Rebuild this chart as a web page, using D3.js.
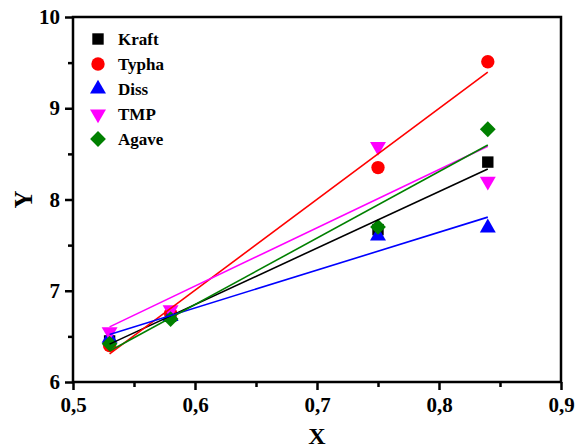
<!DOCTYPE html>
<html>
<head>
<meta charset="utf-8">
<script src="https://cdn.jsdelivr.net/npm/d3@7"></script>
<style>
  html, body { margin: 0; padding: 0; background: #fff; }
  svg { display: block; }
  text { font-family: "Liberation Serif", "Times New Roman", serif; font-weight: bold; fill: #000; }
</style>
</head>
<body>
<svg id="chart" width="583" height="448"></svg>
<script>
// Measured samples
const xValues = [0.53, 0.58, 0.75, 0.84];
const kraft = [6.45, 6.72, 7.67, 8.41];
const typha = [6.40, 6.75, 8.35, 9.51];
const diss  = [6.48, 6.72, 7.60, 7.69];
const tmp   = [6.55, 6.79, 8.58, 8.20];
const agave = [6.42, 6.69, 7.70, 8.77];

const seriesNames = ["Kraft", "Typha", "Diss", "TMP", "Agave"];
const seriesColors = ["#000000", "#ff0000", "#0000ff", "#ff00ff", "#008000"];
const seriesSymbols = ["square", "circle", "triangleUp", "triangleDown", "diamond"];

const xTicks = [0.5, 0.6, 0.7, 0.8, 0.9];
const yTicks = [6, 7, 8, 9, 10];

const seriesValues = [kraft, typha, diss, tmp, agave];
const series = seriesNames.map((name, i) => ({
  name, color: seriesColors[i], symbol: seriesSymbols[i],
  points: xValues.map((x, j) => ({ x, y: seriesValues[i][j] }))
}));

const svg = d3.select("#chart");
const margin = { left: 73, right: 22, top: 17, bottom: 66 };
const W = 583, H = 448;

const x = d3.scaleLinear().domain([0.5, 0.9]).range([margin.left, W - margin.right]);
const y = d3.scaleLinear().domain([6, 10]).range([H - margin.bottom, margin.top]);

const fmt = d => d3.format(".1f")(d).replace(".", ",");

// Frame
svg.append("rect")
  .attr("x", x(0.5)).attr("y", y(10))
  .attr("width", x(0.9) - x(0.5)).attr("height", y(6) - y(10))
  .attr("fill", "none").attr("stroke", "#000").attr("stroke-width", 2.5);

// Bottom axis: major + minor ticks pointing out
const xAxis = svg.append("g").attr("transform", `translate(0,${y(6)})`)
  .call(d3.axisBottom(x).tickValues(xTicks).tickFormat(fmt).tickSize(8).tickPadding(5));
svg.append("g").attr("transform", `translate(0,${y(6)})`)
  .call(d3.axisBottom(x).tickValues([0.55, 0.65, 0.75, 0.85]).tickFormat("").tickSize(5));

const yAxis = svg.append("g").attr("transform", `translate(${x(0.5)},0)`)
  .call(d3.axisLeft(y).tickValues(yTicks).tickFormat(d3.format("d")).tickSize(8).tickPadding(5));
svg.append("g").attr("transform", `translate(${x(0.5)},0)`)
  .call(d3.axisLeft(y).tickValues([6.5, 7.5, 8.5, 9.5]).tickFormat("").tickSize(5));

svg.selectAll(".domain").attr("stroke", "none");
svg.selectAll(".tick line").attr("stroke", "#000").attr("stroke-width", 2.5);
svg.selectAll(".tick text")
  .style("font-family", '"Liberation Serif", serif')
  .style("font-weight", "bold").style("font-size", "21px").attr("fill", "#000");
xAxis.selectAll(".tick text").attr("dy", "0.8em");

// Axis titles
svg.append("text").attr("x", x(0.7)).attr("y", 444)
  .attr("text-anchor", "middle").style("font-size", "24px").text("X");
svg.append("text")
  .attr("transform", `translate(32,${y(8)}) rotate(-90)`)
  .attr("text-anchor", "middle").style("font-size", "25px").text("Y");

const symbolType = {
  square: d3.symbolSquare, circle: d3.symbolCircle, triangleUp: d3.symbolTriangle,
  triangleDown: d3.symbolTriangle, diamond: d3.symbolSquare
};
const symbolSize = { square: 130, circle: 140, triangleUp: 110, triangleDown: 110, diamond: 125 };
function symbolPath(kind) {
  return d3.symbol().type(symbolType[kind]).size(symbolSize[kind])();
}
function symbolRotate(kind) {
  if (kind === "triangleDown") return " rotate(180)";
  if (kind === "diamond") return " rotate(45)";
  return "";
}

// Markers
series.forEach(s => {
  svg.append("g").selectAll("path").data(s.points).join("path")
    .attr("d", symbolPath(s.symbol))
    .attr("transform", d => `translate(${x(d.x)},${y(d.y)})${symbolRotate(s.symbol)}`)
    .attr("fill", s.color);
});

// Least-squares fit lines over the sampled x range
function fit(points) {
  const mx = d3.mean(points, p => p.x), my = d3.mean(points, p => p.y);
  const sxy = d3.sum(points, p => (p.x - mx) * (p.y - my));
  const sxx = d3.sum(points, p => (p.x - mx) ** 2);
  const b = sxy / sxx;
  return xv => my + b * (xv - mx);
}
const x0 = d3.min(xValues), x1 = d3.max(xValues);
series.forEach(s => {
  const f = fit(s.points);
  svg.append("line")
    .attr("x1", x(x0)).attr("y1", y(f(x0)))
    .attr("x2", x(x1)).attr("y2", y(f(x1)))
    .attr("stroke", s.color).attr("stroke-width", 1.6);
});

// Legend
const legend = svg.append("g");
series.forEach((s, i) => {
  const ly = 39 + i * 25;
  legend.append("path")
    .attr("d", symbolPath(s.symbol))
    .attr("transform", `translate(98,${ly})${symbolRotate(s.symbol)}`)
    .attr("fill", s.color);
  legend.append("text").attr("x", 118).attr("y", ly + 6)
    .style("font-size", "17px").text(s.name);
});
</script>
</body>
</html>
